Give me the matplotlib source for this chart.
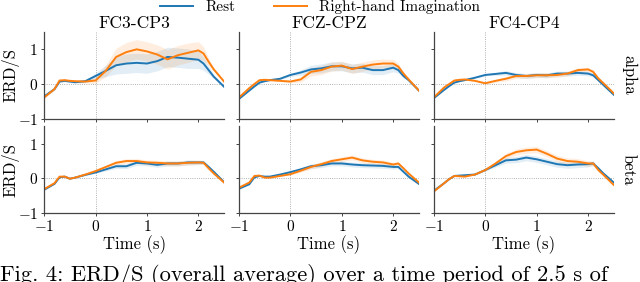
import matplotlib
matplotlib.use("Agg")
import matplotlib.pyplot as plt
import numpy as np

plt.rcParams["font.family"] = "serif"
plt.rcParams["font.serif"] = ["cmr10", "DejaVu Serif"]
plt.rcParams["mathtext.fontset"] = "cm"
plt.rcParams["axes.formatter.use_mathtext"] = True
plt.rcParams["axes.unicode_minus"] = True

# time grid (s)
t = [-1, -0.8, -0.7, -0.6, -0.5, -0.4, -0.2, 0, 0.2, 0.4, 0.6, 0.8, 1.0,
     1.2, 1.4, 1.6, 1.8, 2.0, 2.1, 2.2, 2.3, 2.5]

channels = ["FC3-CP3", "FCZ-CPZ", "FC4-CP4"]
bands = ["alpha", "beta"]

# alpha band
alpha_fc3_rest = [-0.36, -0.15, 0.07, 0.09, 0.07, 0.05, 0.08, 0.23, 0.38, 0.54, 0.59, 0.61, 0.59,
                  0.66, 0.78, 0.76, 0.73, 0.70, 0.59, 0.40, 0.21, -0.08]
alpha_fc3_mi = [-0.39, -0.15, 0.10, 0.11, 0.09, 0.08, 0.07, 0.10, 0.38, 0.78, 0.92, 1.00, 0.94,
                0.85, 0.71, 0.83, 0.90, 0.97, 0.88, 0.64, 0.42, 0.07]
alpha_fcz_rest = [-0.43, -0.19, -0.07, 0.04, 0.08, 0.11, 0.15, 0.26, 0.33, 0.42, 0.45, 0.51, 0.51,
                  0.45, 0.47, 0.40, 0.40, 0.47, 0.40, 0.23, 0.11, -0.19]
alpha_fcz_mi = [-0.39, -0.12, 0.00, 0.11, 0.12, 0.11, 0.09, 0.07, 0.13, 0.35, 0.40, 0.50, 0.53,
                0.43, 0.50, 0.56, 0.59, 0.59, 0.50, 0.30, 0.13, -0.19]
alpha_fc4_rest = [-0.41, -0.17, -0.06, 0.04, 0.08, 0.11, 0.18, 0.26, 0.29, 0.32, 0.26, 0.23, 0.26,
                  0.25, 0.30, 0.30, 0.32, 0.30, 0.25, 0.11, -0.03, -0.31]
alpha_fc4_mi = [-0.39, -0.10, 0.00, 0.10, 0.12, 0.13, 0.09, 0.02, 0.09, 0.15, 0.23, 0.23, 0.25,
                0.25, 0.26, 0.30, 0.40, 0.42, 0.35, 0.16, 0.02, -0.27]

# beta band
beta_fc3_rest = [-0.33, -0.16, 0.03, 0.05, -0.01, 0.02, 0.10, 0.17, 0.26, 0.35, 0.35, 0.45, 0.43,
                 0.39, 0.43, 0.43, 0.46, 0.46, 0.46, 0.33, 0.19, -0.11]
beta_fc3_mi = [-0.31, -0.14, 0.05, 0.05, -0.01, 0.02, 0.11, 0.21, 0.33, 0.45, 0.50, 0.50, 0.46,
               0.45, 0.43, 0.43, 0.45, 0.46, 0.45, 0.29, 0.14, -0.12]
beta_fcz_rest = [-0.30, -0.17, 0.03, 0.07, 0.05, 0.05, 0.11, 0.18, 0.26, 0.35, 0.38, 0.43, 0.43,
                 0.40, 0.38, 0.37, 0.36, 0.33, 0.33, 0.19, 0.05, -0.16]
beta_fcz_mi = [-0.27, -0.12, 0.07, 0.08, 0.02, 0.02, 0.07, 0.12, 0.22, 0.33, 0.41, 0.50, 0.55,
               0.60, 0.52, 0.48, 0.46, 0.40, 0.43, 0.29, 0.14, -0.12]
beta_fc4_rest = [-0.36, -0.14, -0.02, 0.07, 0.08, 0.09, 0.11, 0.24, 0.38, 0.52, 0.54, 0.60, 0.55,
                 0.48, 0.41, 0.38, 0.40, 0.41, 0.43, 0.29, 0.14, -0.12]
beta_fc4_mi = [-0.38, -0.14, -0.02, 0.07, 0.06, 0.05, 0.11, 0.24, 0.43, 0.64, 0.76, 0.81, 0.83,
               0.71, 0.57, 0.50, 0.48, 0.43, 0.43, 0.24, 0.10, -0.19]

# rough spread of the single traces around the mean (shape over time, peak per panel)
spread_shape = [0.1, 0.1, 0.1, 0.1, 0.1, 0.1, 0.15, 0.3, 0.6, 0.9, 1.0, 1.0, 1.0,
                1.0, 1.0, 1.0, 1.0, 0.9, 0.7, 0.4, 0.2, 0.1]
spread_peak = [[0.28, 0.13, 0.07], [0.07, 0.07, 0.09]]

data = [[(alpha_fc3_rest, alpha_fc3_mi), (alpha_fcz_rest, alpha_fcz_mi), (alpha_fc4_rest, alpha_fc4_mi)],
        [(beta_fc3_rest, beta_fc3_mi), (beta_fcz_rest, beta_fcz_mi), (beta_fc4_rest, beta_fc4_mi)]]

blue = "#1f77b4"
orange = "#ff7f0e"

fig, axes = plt.subplots(2, 3, figsize=(6.4, 2.82), dpi=100, sharex=True, sharey=True)
fig.subplots_adjust(left=0.069, right=0.959, top=0.8865, bottom=0.2447, wspace=0.083, hspace=0.09)

tt = np.array(t)
shape = np.array(spread_shape)
for r in range(2):
    for c in range(3):
        ax = axes[r, c]
        rest, mi = data[r][c]
        sp = shape * spread_peak[r][c]
        ax.axvline(0, color="#999999", lw=0.6, ls=":", zorder=0)
        ax.axhline(0, color="#999999", lw=0.6, ls=":", zorder=0)
        ax.fill_between(tt, np.array(rest) - sp, np.array(rest) + sp, color=blue, alpha=0.13, lw=0)
        ax.fill_between(tt, np.array(mi) - sp, np.array(mi) + sp, color=orange, alpha=0.13, lw=0)
        l1, = ax.plot(tt, rest, color=blue, lw=1.4, label="Rest")
        l2, = ax.plot(tt, mi, color=orange, lw=1.4, label="Right-hand Imagination")
        ax.set_xlim(-1, 2.5)
        ax.set_ylim(-1, 1.5)
        ax.set_xticks([-1, 0, 1, 2])
        ax.set_yticks([-1, 0, 1])
        for s in ["top", "right"]:
            ax.spines[s].set_visible(False)
        for s in ["left", "bottom"]:
            ax.spines[s].set_color("#444444")
            ax.spines[s].set_linewidth(0.9)
        ax.tick_params(length=2.5, width=0.7, color="#444444", labelsize=11, pad=2)
        if r == 0:
            ax.set_title(channels[c], fontsize=12.5, pad=3)
        else:
            ax.set_xlabel("Time (s)", fontsize=12, labelpad=1)
        if c == 0:
            ax.set_ylabel("ERD/S", fontsize=12)
            ax.yaxis.set_label_coords(-0.138, 0.5)
        if c == 2:
            ax.text(1.04, 0.5, bands[r], transform=ax.transAxes, rotation=270,
                    va="center", ha="left", fontsize=12)

fig.legend([l1, l2], ["Rest", "Right-hand Imagination"], loc="center", ncol=2,
           bbox_to_anchor=(0.5, 1 - 7 / 282), frameon=False, fontsize=11,
           handlelength=2.2, columnspacing=2.5, borderpad=0)

# figure caption, cut by the lower edge as in the source page
fig.text(0.0, 1 - 264 / 282, "Fig. 4: ERD/S (overall average) over a time period of 2.5 s of",
         ha="left", va="top", fontsize=16.2)

fig.savefig("out.png", dpi=100)
